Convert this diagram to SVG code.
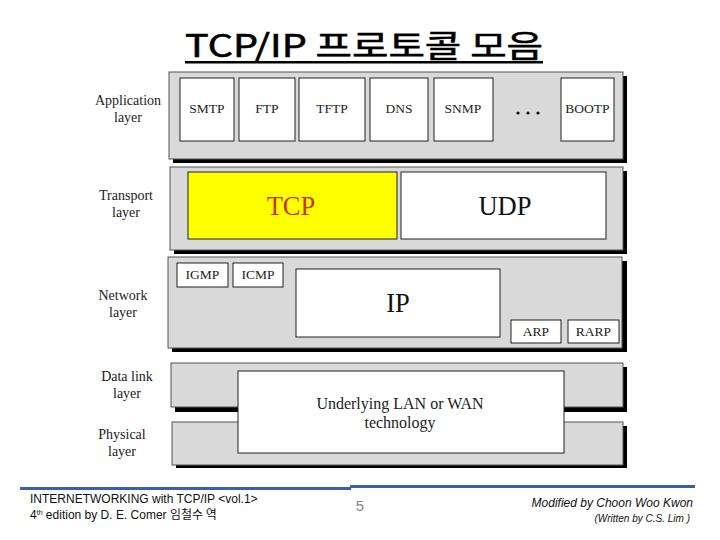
<svg xmlns="http://www.w3.org/2000/svg" width="720" height="540" viewBox="0 0 720 540">
<style>
.shadow{fill:#000}
.panel{fill:#d9d9d9;stroke:#555;stroke-width:1}
.box{fill:#fff;stroke:#222;stroke-width:1}
.lbl{font-family:'Liberation Serif','Times New Roman','DejaVu Serif',serif;font-size:14px;fill:#222;text-anchor:middle}
.bt{font-family:'Liberation Serif','Times New Roman','DejaVu Serif',serif;font-size:13.5px;fill:#222;text-anchor:middle}
.big{font-family:'Liberation Serif','Times New Roman','DejaVu Serif',serif;font-size:26.5px;fill:#111;text-anchor:middle}
.lan{font-family:'Liberation Serif','Times New Roman','DejaVu Serif',serif;font-size:16px;fill:#222;text-anchor:middle}
.ft{font-family:'Liberation Sans',Arial,sans-serif;font-size:12px;fill:#111}
</style>
<rect width="720" height="540" fill="#fff"/>
<g id="title">
<text x="185" y="57" font-family="'Noto Sans CJK KR',sans-serif" font-size="31" font-weight="normal" fill="#000" stroke="#000" stroke-width="0.6" textLength="358" lengthAdjust="spacingAndGlyphs">TCP/IP 프로토콜 모음</text>
<rect x="185" y="61" width="358" height="2.5" fill="#000"/>
</g>
<g id="application-layer">
<rect class="shadow" x="173" y="76" width="454" height="87"/>
<rect class="panel" x="169" y="72" width="454" height="87"/>
<text class="lbl" x="128" y="105">Application</text>
<text class="lbl" x="128" y="122">layer</text>
<g id="smtp"><rect class="box" x="180" y="78" width="54" height="63"/><text class="bt" x="207" y="113">SMTP</text></g>
<g id="ftp"><rect class="box" x="239" y="78" width="56" height="63"/><text class="bt" x="267" y="113">FTP</text></g>
<g id="tftp"><rect class="box" x="299" y="78" width="66" height="63"/><text class="bt" x="332" y="113">TFTP</text></g>
<g id="dns"><rect class="box" x="370" y="78" width="58" height="63"/><text class="bt" x="399" y="113">DNS</text></g>
<g id="snmp"><rect class="box" x="434" y="78" width="59" height="63"/><text class="bt" x="463" y="113">SNMP</text></g>
<g id="dots"><circle cx="518" cy="113" r="1.6" fill="#111"/><circle cx="528" cy="113" r="1.6" fill="#111"/><circle cx="538" cy="113" r="1.6" fill="#111"/></g>
<g id="bootp"><rect class="box" x="561" y="78" width="53" height="63"/><text class="bt" x="587.5" y="113">BOOTP</text></g>
</g>
<g id="transport-layer">
<rect class="shadow" x="174" y="171" width="453" height="83"/>
<rect class="panel" x="170" y="167" width="453" height="83"/>
<text class="lbl" x="126" y="200">Transport</text>
<text class="lbl" x="126" y="217">layer</text>
<g id="tcp"><rect x="188" y="172" width="209" height="67" fill="#ffff00" stroke="#222"/><text class="big" x="291" y="215" style="fill:#cc3300">TCP</text></g>
<g id="udp"><rect class="box" x="401" y="172" width="205" height="67"/><text class="big" x="505" y="215">UDP</text></g>
</g>
<g id="network-layer">
<rect class="shadow" x="172" y="261" width="455" height="91"/>
<rect class="panel" x="168" y="257" width="454" height="91"/>
<text class="lbl" x="123" y="300">Network</text>
<text class="lbl" x="123" y="317">layer</text>
<g id="igmp"><rect class="box" x="177" y="263" width="51" height="24"/><text class="bt" x="202.5" y="279">IGMP</text></g>
<g id="icmp"><rect class="box" x="233" y="263" width="50" height="24"/><text class="bt" x="258" y="279">ICMP</text></g>
<g id="ip"><rect class="box" x="296" y="269" width="204" height="68"/><text class="big" x="398" y="312">IP</text></g>
<g id="arp"><rect class="box" x="511" y="320" width="50" height="23"/><text class="bt" x="536" y="336">ARP</text></g>
<g id="rarp"><rect class="box" x="568" y="320" width="51" height="23"/><text class="bt" x="593.5" y="336">RARP</text></g>
</g>
<g id="data-link-layer">
<rect class="shadow" x="175" y="367" width="452" height="45"/>
<rect class="panel" x="171" y="363" width="452" height="44"/>
<text class="lbl" x="127" y="381">Data link</text>
<text class="lbl" x="127" y="398">layer</text>
</g>
<g id="physical-layer">
<rect class="shadow" x="176" y="426" width="451" height="42"/>
<rect class="panel" x="172" y="422" width="451" height="43"/>
<text class="lbl" x="122" y="439">Physical</text>
<text class="lbl" x="122" y="456">layer</text>
</g>
<g id="lan-wan">
<rect class="box" x="238" y="371" width="326" height="82"/>
<text class="lan" x="400" y="409">Underlying LAN or WAN</text>
<text class="lan" x="400" y="428">technology</text>
</g>
<g id="footer">
<rect x="20" y="487" width="331" height="3" fill="#3a5fad"/>
<rect x="350" y="485" width="345" height="3" fill="#3a5fad"/>
<text class="ft" x="30" y="503">INTERNETWORKING with TCP/IP &lt;vol.1&gt;</text>
<text class="ft" x="30" y="519">4<tspan style="font-size:7px" dy="-4">th</tspan><tspan dy="4"> edition by D. E. Comer </tspan><tspan style="font-family:'Noto Sans CJK KR',sans-serif">임철수 역</tspan></text>
<text x="360" y="511" font-family="'Liberation Sans',Arial,sans-serif" font-size="15" fill="#888" text-anchor="middle">5</text>
<text class="ft" x="693" y="507" text-anchor="end" font-style="italic">Modified by Choon Woo Kwon</text>
<text class="ft" x="690" y="522" text-anchor="end" font-style="italic" style="font-size:10px">(Written by C.S. Lim )</text>
</g>
</svg>
